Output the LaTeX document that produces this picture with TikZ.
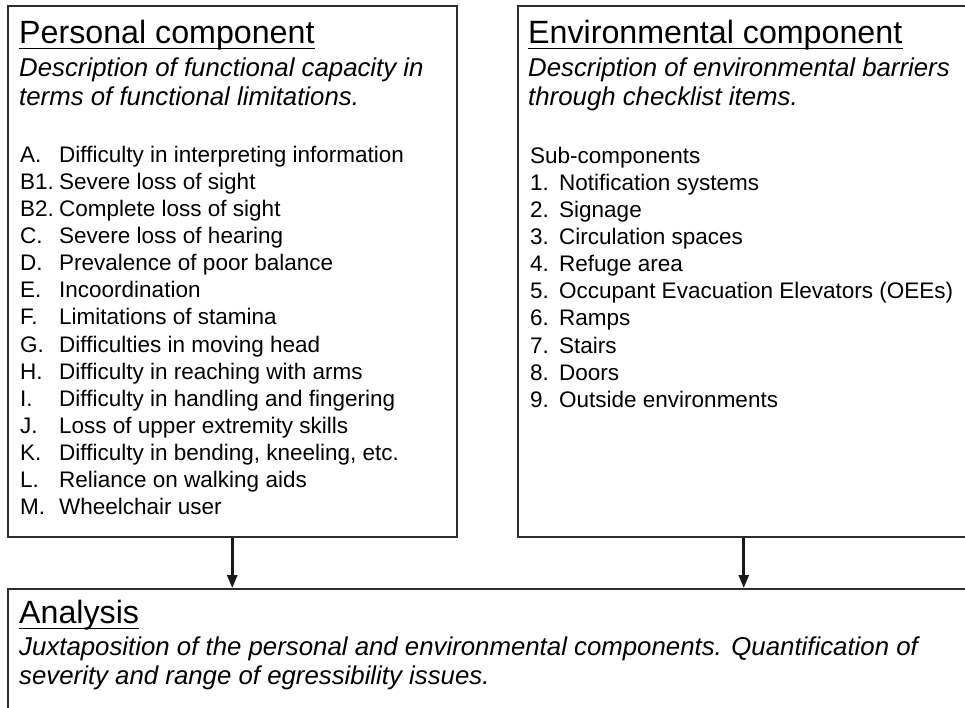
\documentclass[tikz,border=0pt]{standalone}
\usepackage{fontspec}
\setmainfont{Liberation Sans}
\usetikzlibrary{arrows.meta,calc,positioning}
\usepackage{xcolor}
\definecolor{FrameGray}{RGB}{45,45,45}

\tikzset{
  panel/.style={draw=FrameGray, line width=1.5pt, inner sep=0pt, anchor=north west},
  headtxt/.style={inner sep=0pt, anchor=base west, font=\fontsize{32.2}{36}\selectfont},
  desctxt/.style={inner sep=0pt, anchor=base west, font=\fontsize{25.8}{29}\selectfont\itshape},
  itemtxt/.style={inner sep=0pt, anchor=base west, font=\fontsize{22.5}{27}\selectfont},
  uline/.style={line width=1.4pt},
  flow/.style={line width=2.6pt, black!90, -{Triangle[length=13pt,width=10pt]}}
}

\begin{document}
\begin{tikzpicture}[x=1pt,y=-1pt]
\clip (0,0) rectangle (965,707);
% Boxes
\node[panel, minimum width=449pt, minimum height=531pt] (personal) at (7,5) {};
\node[panel, minimum width=452pt, minimum height=531pt] (environ) at (517,5) {};
\node[panel, minimum width=962pt, minimum height=160pt] (analysis) at (7,588) {};
% Personal component
\node[headtxt] (ptitle) at (19,43) {Personal component};
\draw[uline] ($(ptitle.base west)+(0,5.5)$) -- ($(ptitle.base east)+(0,5.5)$);
\node[desctxt] (pdesc1) at (19,76) {Description of functional capacity in};
\node[desctxt] (pdesc2) at (19,105) {terms of functional limitations.};
\foreach \lbl/\txt [count=\k from 0] in {A./Difficulty in interpreting information,
    B1./Severe loss of sight, B2./Complete loss of sight, C./Severe loss of hearing,
    D./Prevalence of poor balance, E./Incoordination, F./Limitations of stamina,
    G./Difficulties in moving head, H./Difficulty in reaching with arms,
    I./Difficulty in handling and fingering, J./Loss of upper extremity skills,
    K./{Difficulty in bending, kneeling, etc.}, L./Reliance on walking aids,
    M./Wheelchair user} {
  \node[itemtxt] (plbl\k) at (20,162+27.15*\k) {\lbl};
  \node[itemtxt] (pitem\k) at (59,162+27.15*\k) {\txt};
}
% Environmental component
\node[headtxt] (etitle) at (528,43) {Environmental component};
\draw[uline] ($(etitle.base west)+(0,5.5)$) -- ($(etitle.base east)+(0,5.5)$);
\node[desctxt] (edesc1) at (528,76) {Description of environmental barriers};
\node[desctxt] (edesc2) at (528,105) {through checklist items.};
\node[itemtxt] (esub) at (530,163) {Sub-components};
\foreach \txt [count=\k] in {Notification systems, Signage, Circulation spaces,
    Refuge area, Occupant Evacuation Elevators (OEEs), Ramps, Stairs, Doors,
    Outside environments} {
  \node[itemtxt] (elbl\k) at (530,163+27.15*\k) {\k.};
  \node[itemtxt] (eitem\k) at (559,163+27.15*\k) {\txt};
}
% Analysis
\node[headtxt] (atitle) at (19,623) {Analysis};
\draw[uline] ($(atitle.base west)+(0,5.5)$) -- ($(atitle.base east)+(0,5.5)$);
\node[desctxt] (adesc1) at (19,655) {Juxtaposition of the personal and environmental components. Quantification of};
\node[desctxt] (adesc2) at (19,684) {severity and range of egressibility issues.};
% Arrows
\draw[flow] (personal.south) -- (personal.south |- analysis.north);
\draw[flow] (environ.south) -- (environ.south |- analysis.north);
\end{tikzpicture}
\end{document}
